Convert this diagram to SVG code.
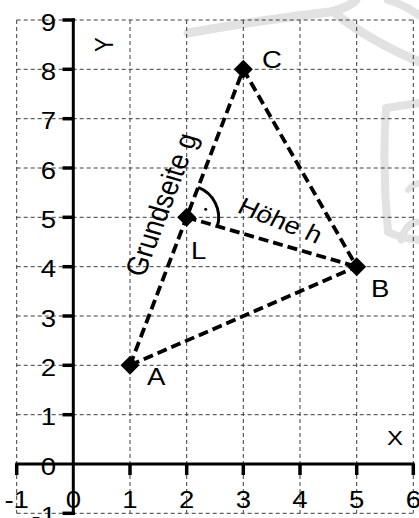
<svg xmlns="http://www.w3.org/2000/svg" width="419" height="518" viewBox="0 0 419 518">
<style>
text{font-family:"Liberation Sans",Arial,Helvetica,sans-serif;fill:#000}
.n{font-size:24px}
.wm path{fill:none;stroke:#e2e2e2;stroke-linecap:round;stroke-linejoin:round}
.grid line{stroke:#3c3c3c;stroke-width:1;stroke-dasharray:4 3}
.axis line{stroke:#000;stroke-width:3}
.tick line{stroke:#000;stroke-width:3.5}
.conn line{stroke:#000;stroke-width:3.8;stroke-dasharray:10 5}
.pt polygon{fill:#000}
</style>
<defs>
<polygon id="dia" points="0,-9.5 9.5,0 0,9.5 -9.5,0"/>
</defs>
<g class="wm">
<path d="M188,33 Q260,20 330,12 Q348,8 356,0" stroke-width="9"/>
<path d="M337,15 Q372,42 420,62" stroke-width="9"/>
<path d="M388,0 Q405,5 420,16" stroke-width="8"/>
<path d="M420,103 L386,108 Q382,170 388,232 Q400,238 420,240" stroke-width="8"/>
<path d="M401,240 Q405,225 416,222" stroke-width="7"/>
<path d="M408,190 Q412,185 419,183" stroke-width="6"/>
</g>
<g class="grid">
<line x1="16.7" y1="20" x2="413.3" y2="20"/>
<line x1="16.7" y1="69.3" x2="413.3" y2="69.3"/>
<line x1="16.7" y1="118.7" x2="413.3" y2="118.7"/>
<line x1="16.7" y1="168" x2="413.3" y2="168"/>
<line x1="16.7" y1="217.3" x2="413.3" y2="217.3"/>
<line x1="16.7" y1="266.7" x2="413.3" y2="266.7"/>
<line x1="16.7" y1="316" x2="413.3" y2="316"/>
<line x1="16.7" y1="365.3" x2="413.3" y2="365.3"/>
<line x1="16.7" y1="414.7" x2="413.3" y2="414.7"/>
<line x1="16.7" y1="513.3" x2="413.3" y2="513.3"/>
<line x1="16.7" y1="20" x2="16.7" y2="513.3"/>
<line x1="130" y1="20" x2="130" y2="513.3"/>
<line x1="186.7" y1="20" x2="186.7" y2="513.3"/>
<line x1="243.3" y1="20" x2="243.3" y2="513.3"/>
<line x1="300" y1="20" x2="300" y2="513.3"/>
<line x1="356.7" y1="20" x2="356.7" y2="513.3"/>
<line x1="413.3" y1="20" x2="413.3" y2="513.3"/>
</g>
<g class="axis">
<line x1="73.3" y1="18.5" x2="73.3" y2="514.8"/>
<line x1="15.2" y1="464" x2="414.8" y2="464"/>
</g>
<g class="tick">
<line x1="62.5" y1="20" x2="75" y2="20"/>
<line x1="62.5" y1="69.3" x2="73.3" y2="69.3"/>
<line x1="62.5" y1="118.7" x2="73.3" y2="118.7"/>
<line x1="62.5" y1="168" x2="73.3" y2="168"/>
<line x1="62.5" y1="217.3" x2="73.3" y2="217.3"/>
<line x1="62.5" y1="266.7" x2="73.3" y2="266.7"/>
<line x1="62.5" y1="316" x2="73.3" y2="316"/>
<line x1="62.5" y1="365.3" x2="73.3" y2="365.3"/>
<line x1="62.5" y1="414.7" x2="73.3" y2="414.7"/>
<line x1="62.5" y1="513.3" x2="75" y2="513.3"/>
<line x1="16.7" y1="464" x2="16.7" y2="475"/>
<line x1="130" y1="464" x2="130" y2="475"/>
<line x1="186.7" y1="464" x2="186.7" y2="475"/>
<line x1="243.3" y1="464" x2="243.3" y2="475"/>
<line x1="300" y1="464" x2="300" y2="475"/>
<line x1="356.7" y1="464" x2="356.7" y2="475"/>
<line x1="413.3" y1="464" x2="413.3" y2="475"/>
</g>
<g id="labels-y" class="n" text-anchor="end">
<text transform="translate(56,30.5) scale(1.149,1)">9</text>
<text transform="translate(56,79.8) scale(1.149,1)">8</text>
<text transform="translate(56,129.2) scale(1.149,1)">7</text>
<text transform="translate(56,178.5) scale(1.149,1)">6</text>
<text transform="translate(56,227.8) scale(1.149,1)">5</text>
<text transform="translate(56,277.2) scale(1.149,1)">4</text>
<text transform="translate(56,326.5) scale(1.149,1)">3</text>
<text transform="translate(56,375.8) scale(1.149,1)">2</text>
<text transform="translate(56,425.2) scale(1.149,1)">1</text>
<text transform="translate(56,474.5) scale(1.149,1)">0</text>
<text transform="translate(56,523.8) scale(1.149,1)">-1</text>
</g>
<g id="labels-x" class="n" text-anchor="middle">
<text transform="translate(16.7,508) scale(1.149,1)">-1</text>
<text transform="translate(73.3,508) scale(1.149,1)">0</text>
<text transform="translate(130,508) scale(1.149,1)">1</text>
<text transform="translate(186.7,508) scale(1.149,1)">2</text>
<text transform="translate(243.3,508) scale(1.149,1)">3</text>
<text transform="translate(300,508) scale(1.149,1)">4</text>
<text transform="translate(356.7,508) scale(1.149,1)">5</text>
<text transform="translate(413.3,508) scale(1.149,1)">6</text>
</g>
<text id="axis-x-label" font-size="21" transform="translate(387,445) scale(1.149,1)">X</text>
<text id="axis-y-label" font-size="22" transform="translate(113,52) scale(1.149,1) rotate(-90)">Y</text>
<g id="connectors" class="conn">
<line x1="130" y1="365.3" x2="243.3" y2="69.3"/>
<line x1="243.3" y1="69.3" x2="356.7" y2="266.7"/>
<line x1="130" y1="365.3" x2="356.7" y2="266.7"/>
<line x1="186.7" y1="217.3" x2="356.7" y2="266.7"/>
</g>
<g id="right-angle">
<path d="M198.2,187.4 A32,32 0 0 1 217.4,226.2" fill="none" stroke="#000" stroke-width="3"/>
<circle cx="205.7" cy="209.3" r="1.5" fill="#000"/>
</g>
<text id="label-g" font-size="26" transform="translate(144,278) scale(1.149,1) rotate(-71.6)">Grundseite g</text>
<text id="label-h" font-size="24" transform="translate(236,212) scale(1.149,1) rotate(24.5)">Höhe h</text>
<g id="A" class="pt"><use href="#dia" x="130" y="365.3"/><text class="n" transform="translate(147,385) scale(1.149,1)">A</text></g>
<g id="B" class="pt"><use href="#dia" x="356.7" y="266.7"/><text class="n" transform="translate(371,297) scale(1.149,1)">B</text></g>
<g id="C" class="pt"><use href="#dia" x="243.3" y="69.3"/><text class="n" transform="translate(262,68) scale(1.149,1)">C</text></g>
<g id="L" class="pt"><use href="#dia" x="186.7" y="217.3"/><text class="n" transform="translate(191,259) scale(1.149,1)">L</text></g>
</svg>
